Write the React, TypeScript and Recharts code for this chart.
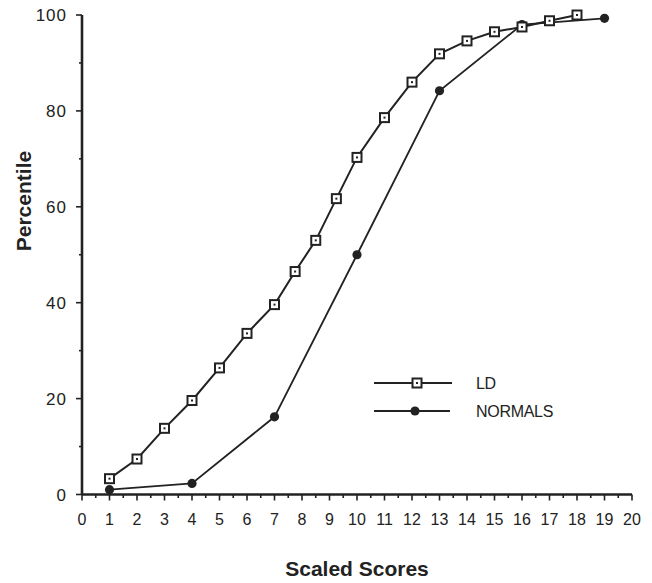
import React from 'react';
import { LineChart, Line, XAxis, YAxis, Legend, Label } from 'recharts';

const ldScores = [1, 2, 3, 4, 5, 6, 7, 7.75, 8.5, 9.25, 10, 11, 12, 13, 14, 15, 16, 17, 18];
const ldPercentiles = [3.3, 7.4, 13.8, 19.6, 26.4, 33.6, 39.6, 46.5, 53, 61.7, 70.3, 78.6, 86, 91.9, 94.6, 96.5, 97.5, 98.8, 100];
const normalScores = [1, 4, 7, 10, 13, 16, 19];
const normalPercentiles = [1, 2.3, 16.2, 50, 84.2, 98, 99.3];

const xMajorTicks = [0, 1, 2, 3, 4, 5, 6, 7, 8, 9, 10, 11, 12, 13, 14, 15, 16, 17, 18, 19, 20];
const yMajorTicks = [0, 20, 40, 60, 80, 100];
const xTicks = xMajorTicks.flatMap((t) => (t < 20 ? [t, t + 0.5] : [t]));
const yTicks = yMajorTicks.flatMap((t) => (t < 100 ? [t, t + 10] : [t]));

const ldData = ldScores.map((x, i) => ({ x, y: ldPercentiles[i] }));
const normalData = normalScores.map((x, i) => ({ x, y: normalPercentiles[i] }));

const INK = '#222';
const FONT = '"Liberation Sans", Arial, Helvetica, sans-serif';

const XTick = (props: any) => {
  const { x, y, payload } = props;
  const v = payload.value;
  const major = Number.isInteger(v);
  return (
    <g>
      <line x1={x} x2={x} y1={y} y2={y + (major ? 6 : 3.5)} stroke={INK} strokeWidth={1.6} />
      {major && (
        <text x={x} y={y + 30.5} textAnchor="middle" fontSize={16} fill={INK} fontFamily={FONT}>
          {v}
        </text>
      )}
    </g>
  );
};

const YTick = (props: any) => {
  const { x, y, payload } = props;
  const v = payload.value;
  const major = v % 20 === 0;
  return (
    <g>
      <line x1={x - (major ? 6 : 3)} x2={x} y1={y} y2={y} stroke={INK} strokeWidth={1.6} />
      {major && (
        <text x={x - 15} y={y + 6} textAnchor="end" fontSize={17} letterSpacing={1} fill={INK} fontFamily={FONT}>
          {v}
        </text>
      )}
    </g>
  );
};

const SquareDot = (props: any) => {
  const { cx, cy, index } = props;
  if (cx == null || cy == null) return null;
  return (
    <g key={`sq-${index}`}>
      <rect x={cx - 4.5} y={cy - 4.5} width={9} height={9} fill="#fff" stroke={INK} strokeWidth={2} />
      <rect x={cx - 1} y={cy - 1} width={2} height={2} fill={INK} />
    </g>
  );
};

const RoundDot = (props: any) => {
  const { cx, cy, index } = props;
  if (cx == null || cy == null) return null;
  return <circle key={`rd-${index}`} cx={cx} cy={cy} r={4.6} fill={INK} stroke="none" />;
};

const LegendContent = () => (
  <svg width={220} height={52} style={{ display: 'block' }}>
    <line x1={0} x2={78} y1={11} y2={11} stroke={INK} strokeWidth={2} />
    <rect x={38.5} y={6.5} width={9} height={9} fill="#fff" stroke={INK} strokeWidth={2} />
    <rect x={42} y={10} width={2} height={2} fill={INK} />
    <text x={102} y={17} fontSize={16} fill={INK} fontFamily={FONT} letterSpacing={-0.5}>LD</text>
    <line x1={0} x2={76} y1={39} y2={39} stroke={INK} strokeWidth={1.8} />
    <circle cx={41} cy={39} r={4.6} fill={INK} />
    <text x={102} y={45} fontSize={16} fill={INK} fontFamily={FONT} letterSpacing={-0.3}>NORMALS</text>
  </svg>
);

const YTitle = (props: any) => {
  const vb = props.viewBox || {};
  const cx = 24;
  const cy = vb.y + vb.height * 0.388;
  return (
    <text
      x={cx}
      y={cy}
      transform={`rotate(-90 ${cx} ${cy})`}
      textAnchor="middle"
      dominantBaseline="central"
      fontSize={21}
      fontWeight="bold"
      fill={INK}
      fontFamily={FONT}
    >
      Percentile
    </text>
  );
};

const XTitle = (props: any) => {
  const vb = props.viewBox || {};
  return (
    <text
      x={vb.x + vb.width / 2}
      y={vb.y + 81}
      textAnchor="middle"
      fontSize={21}
      fontWeight="bold"
      fill={INK}
      fontFamily={FONT}
    >
      Scaled Scores
    </text>
  );
};

export default function App() {
  return (
    <div style={{ position: 'absolute', left: 0, top: 0, background: '#fff' }}>
      <LineChart width={652} height={583} margin={{ top: 15, right: 20, bottom: 28.5, left: 0 }}>
        <XAxis
          xAxisId="main"
          dataKey="x"
          type="number"
          domain={[0, 20]}
          ticks={xTicks}
          interval={0}
          tick={<XTick />}
          tickLine={false}
          tickSize={0}
          tickMargin={0}
          height={60}
          axisLine={{ stroke: INK, strokeWidth: 2.6 }}
          allowDecimals
        >
          <Label content={<XTitle />} />
        </XAxis>
        <XAxis
          xAxisId="top"
          orientation="top"
          type="number"
          dataKey="x"
          domain={[0, 20]}
          height={0}
          tick={false}
          tickLine={false}
          axisLine={{ stroke: INK, strokeWidth: 1.8 }}
        />
        <YAxis
          yAxisId="main"
          type="number"
          domain={[0, 100]}
          ticks={yTicks}
          interval={0}
          tick={<YTick />}
          tickLine={false}
          tickSize={0}
          tickMargin={0}
          width={82}
          axisLine={{ stroke: INK, strokeWidth: 2.6 }}
        >
          <Label content={<YTitle />} />
        </YAxis>
        <YAxis
          yAxisId="right"
          orientation="right"
          type="number"
          domain={[0, 100]}
          width={0}
          tick={false}
          tickLine={false}
          axisLine={{ stroke: INK, strokeWidth: 2 }}
        />
        <Legend
          layout="horizontal"
          verticalAlign="middle"
          align="center"
          content={<LegendContent />}
          wrapperStyle={{ position: 'absolute', left: 374, top: 372, width: 220, height: 52 }}
        />
        <Line
          xAxisId="main"
          yAxisId="main"
          data={normalData}
          dataKey="y"
          name="NORMALS"
          stroke={INK}
          strokeWidth={1.8}
          dot={<RoundDot />}
          isAnimationActive={false}
        />
        <Line
          xAxisId="main"
          yAxisId="main"
          data={ldData}
          dataKey="y"
          name="LD"
          stroke={INK}
          strokeWidth={2}
          dot={<SquareDot />}
          isAnimationActive={false}
        />
      </LineChart>
    </div>
  );
}
